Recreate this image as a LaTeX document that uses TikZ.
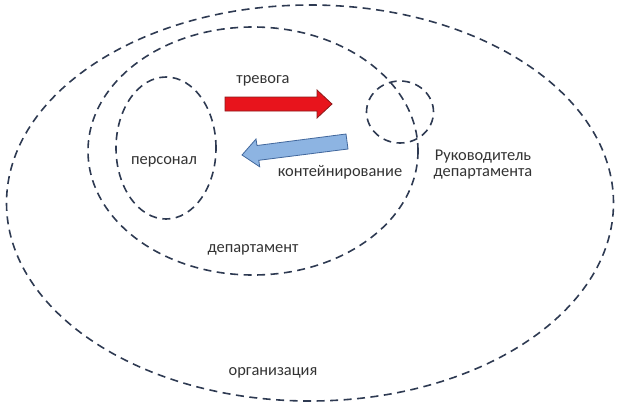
\documentclass[tikz,border=0pt]{standalone}
\usepackage{fontspec}
\setmainfont{Carlito}
\usetikzlibrary{shapes.geometric}

\definecolor{ringcol}{HTML}{2E3A52}
\definecolor{labelcol}{HTML}{333333}
\definecolor{alarmfill}{HTML}{E8141C}
\definecolor{alarmline}{HTML}{8C1A1A}
\definecolor{holdfill}{HTML}{8DB4E2}
\definecolor{holdline}{HTML}{41679C}

\tikzset{
  ring/.style={ellipse, draw=ringcol, line width=1.6pt, dash pattern=on 8pt off 5.5pt, inner sep=0pt},
  lbl/.style={text=labelcol, font=\fontsize{16.4}{19}\selectfont, align=center, inner sep=1pt}
}

\begin{document}
\begin{tikzpicture}[x=1pt, y=-1pt]
            \useasboundingbox (0,0) rectangle (620,410);

            % Rings
            \node (org) [ring, minimum width=607pt, minimum height=396pt] at (310,203) {};
            \node (dept) [ring, minimum width=330pt, minimum height=248pt] at (253,151) {};
            \node (staff) [ring, minimum width=100pt, minimum height=142pt] at (166,148) {};
            \node (head) [ring, minimum width=67pt, minimum height=62pt] at (400,112) {};

            % Labels
            \node (staffLbl) [lbl] at (164,162) {персонал};
            \node (deptLbl) [lbl] at (253,250) {департамент};
            \node (orgLbl) [lbl] at (273,373) {организация};
            \node (headLbl) [lbl] at (483,165) {Руководитель\\[-3pt]департамента};
            \node (alarmLbl) [lbl] at (263,81) {тревога};
            \node (holdLbl) [lbl] at (340,172) {контейнирование};

            % Block arrows
            \draw[fill=alarmfill, draw=alarmline, line width=0.8pt]
              (225,97) -- (317,97) -- (317,90) -- (332,104) -- (317,118) -- (317,111) -- (225,111) -- cycle;
            \draw[fill=holdfill, draw=holdline, line width=0.8pt]
              (348,149) -- (346,134) -- (257,145.5) -- (256,139) -- (242,155) -- (259.7,166.8) -- (258.8,160.3) -- cycle;
\end{tikzpicture}
\end{document}
